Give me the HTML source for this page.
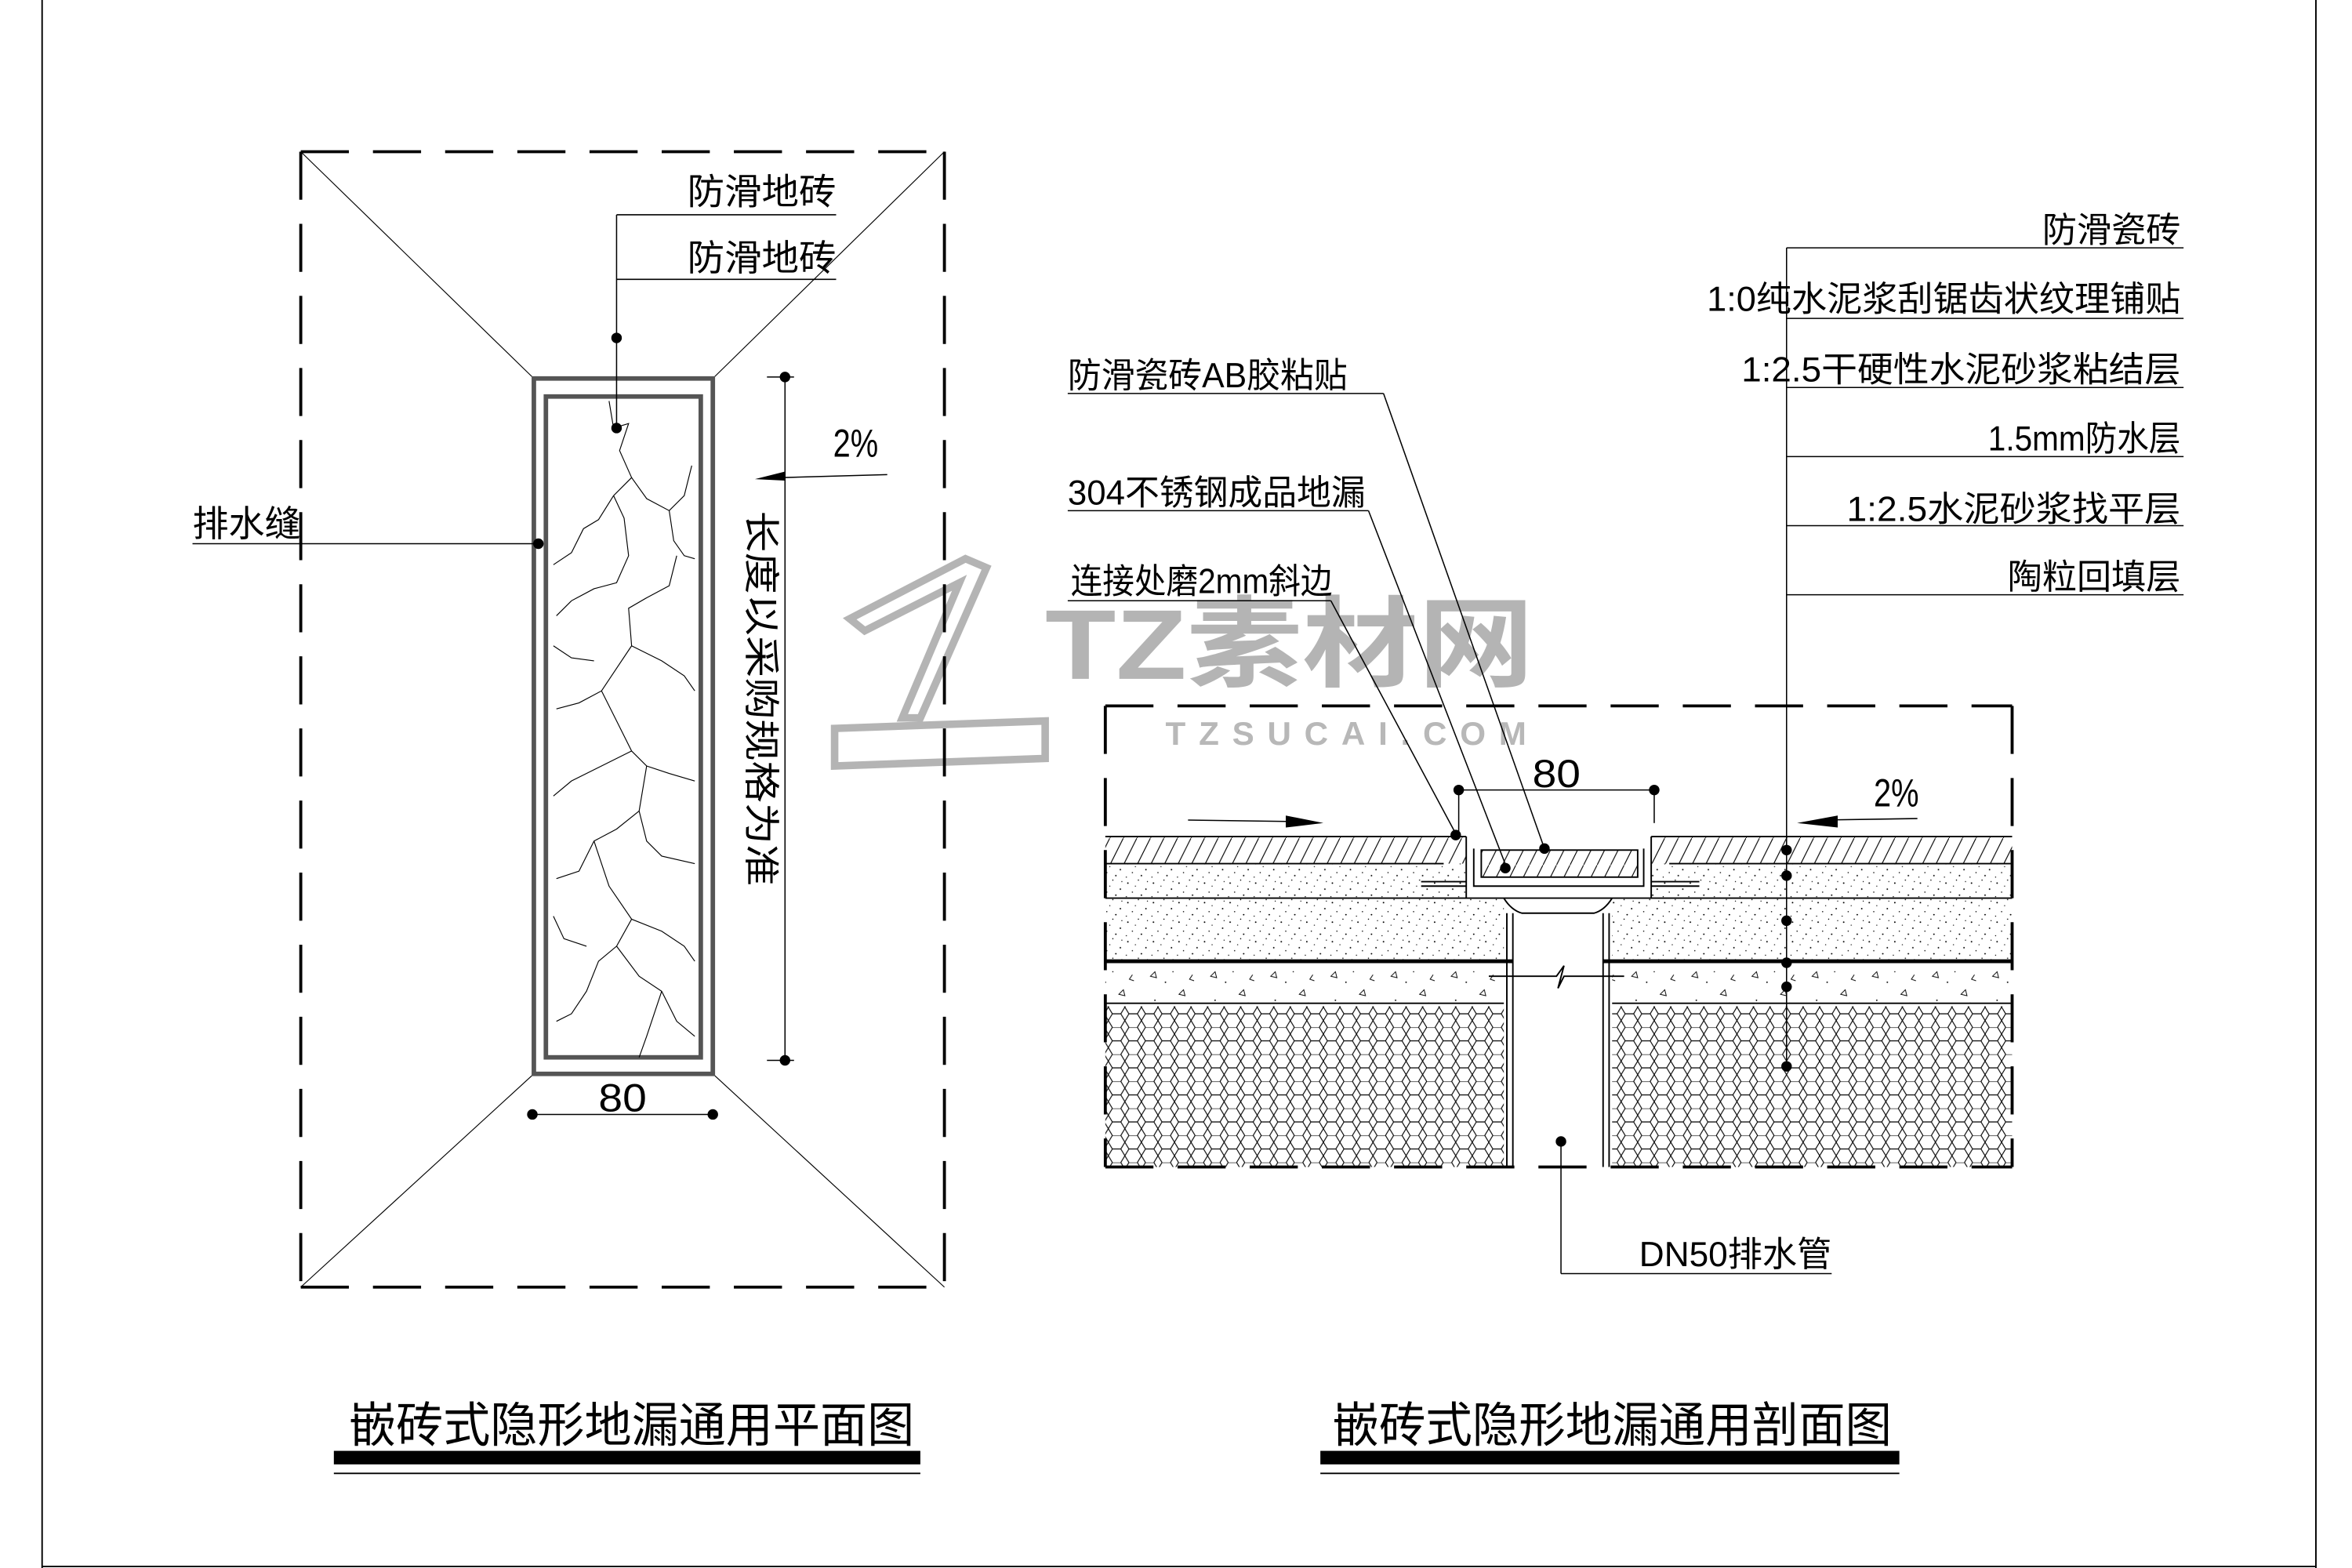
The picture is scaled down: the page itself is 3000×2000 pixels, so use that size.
<!DOCTYPE html>
<html><head><meta charset="utf-8"><style>
html,body{margin:0;padding:0;background:#fff;}
svg{display:block;}
text{font-family:"Liberation Sans","Noto Sans CJK SC",sans-serif;fill:#000;}
</style></head><body>
<svg width="3000" height="2000" viewBox="0 0 1564 1044" preserveAspectRatio="none" xmlns="http://www.w3.org/2000/svg">
<defs>
<pattern id="hex" width="11" height="18" patternUnits="userSpaceOnUse">
<path d="M0,4.5 L2.7,0 L8.3,0 L11,4.5 L8.3,9 L2.7,9 Z M8.3,9 L11,13.5 M2.7,9 L0,13.5 L2.7,18 M8.3,18 L11,13.5" fill="none" stroke="#000" stroke-width="0.6"/>
</pattern>
<pattern id="hatch" width="9" height="18" patternUnits="userSpaceOnUse">
<path d="M0,18 L9,0" stroke="#000" stroke-width="0.6"/>
</pattern>
<pattern id="dots" width="17" height="13" patternUnits="userSpaceOnUse">
<g fill="#000"><circle cx="2" cy="3" r="0.5"/><circle cx="9" cy="1" r="0.4"/><circle cx="14" cy="7" r="0.5"/><circle cx="5" cy="9" r="0.4"/><circle cx="11" cy="11" r="0.5"/><circle cx="7" cy="5" r="0.35"/><circle cx="15" cy="2" r="0.35"/><circle cx="1" cy="12" r="0.35"/></g>
</pattern>
<pattern id="conc" width="40" height="28" patternUnits="userSpaceOnUse">
<g fill="none" stroke="#000" stroke-width="0.5"><path d="M5,6 l3,-3 l1,4 z"/><path d="M24,18 l3,-3 l1,4 z"/><path d="M33,5 l-2,3 l3,1"/></g>
<g fill="#000"><circle cx="15" cy="10" r="0.5"/><circle cx="30" cy="24" r="0.5"/><circle cx="8" cy="22" r="0.5"/><circle cx="20" cy="3" r="0.4"/></g>
</pattern>
</defs>

<g stroke="#000" stroke-width="1" fill="none">
<line x1="28" y1="0" x2="28" y2="1044"/>
<line x1="1540" y1="0" x2="1540" y2="1044"/>
<line x1="28" y1="1043" x2="1540" y2="1043"/>
</g>

<g fill="none" stroke="#b4b4b4" stroke-width="5">
<path d="M565,412 L642,372 L656,378 L612,478 L600,478 L638,388 L575,420 Z"/>
<path d="M555,485 L695,480 L695,505 L555,510 Z"/>
</g>
<text x="695" y="452" font-size="66" font-weight="bold" style="fill:#b4b4b4" textLength="325" lengthAdjust="spacingAndGlyphs">TZ素材网</text>
<text x="775" y="496" font-size="22" font-weight="bold" style="fill:#b8b8b8" textLength="240" lengthAdjust="spacing">TZSUCAI.COM</text>

<g stroke="#000" fill="none">
<g stroke-width="2" stroke-dasharray="32,16">
<line x1="200" y1="101" x2="628" y2="101"/>
<line x1="200" y1="857" x2="628" y2="857"/>
<line x1="200" y1="101" x2="200" y2="857"/>
<line x1="628" y1="101" x2="628" y2="857"/>
</g>
<g stroke-width="0.6">
<line x1="200" y1="101" x2="355" y2="252"/>
<line x1="628" y1="101" x2="474" y2="252"/>
<line x1="200" y1="857" x2="355" y2="715"/>
<line x1="628" y1="857" x2="474" y2="715"/>
</g>
<rect x="355" y="252" width="119" height="463" stroke-width="3" stroke="#555"/>
<rect x="363" y="264" width="103" height="440" stroke-width="3" stroke="#555"/>
<g stroke-width="0.6">
<path d="M405,267 L408,285 L418,282 L412,300 L420,318 L408,330 L398,346 L388,352 L380,368 L368,376"/>
<path d="M420,318 L430,332 L445,340 L455,330 L460,310"/>
<path d="M408,330 L415,345 L418,370 L410,388 L395,392 L380,400 L370,410"/>
<path d="M445,340 L448,360 L455,370 L462,372 M450,370 L445,390 L430,398 L418,405 L420,430"/>
<path d="M420,430 L410,445 L400,460 L385,468 L370,472"/>
<path d="M420,430 L440,440 L455,450 L462,460"/>
<path d="M400,460 L410,480 L420,500 L430,510 L445,515 L462,520"/>
<path d="M420,500 L400,510 L380,520 L368,530"/>
<path d="M430,510 L425,540 L430,560 L440,570 L462,575"/>
<path d="M425,540 L410,552 L395,560 L385,580 L370,585"/>
<path d="M395,560 L405,590 L420,612 L410,630 L398,640 L390,660 L380,675 L370,680"/>
<path d="M420,612 L440,620 L455,630 L462,640"/>
<path d="M410,630 L425,650 L440,660 L450,680 L462,690"/>
<path d="M440,660 L430,690 L425,704"/>
<path d="M368,610 L375,625 L390,630"/>
<path d="M368,430 L380,438 L395,440"/>
</g>
<g stroke-width="0.8">
<line x1="410" y1="143" x2="556" y2="143"/>
<line x1="410" y1="186" x2="556" y2="186"/>
<line x1="410" y1="143" x2="410" y2="285"/>
<line x1="128" y1="362" x2="358" y2="362"/>
<line x1="510" y1="251" x2="528" y2="251"/>
<line x1="522" y1="251" x2="522" y2="706"/>
<line x1="510" y1="706" x2="528" y2="706"/>
<line x1="520" y1="318" x2="590" y2="316"/>
<line x1="354" y1="742" x2="474" y2="742"/>
</g>
</g>
<g fill="#000">
<circle cx="410" cy="225" r="3.5"/><circle cx="410" cy="285" r="3.5"/><circle cx="358" cy="362" r="3.5"/>
<circle cx="522" cy="251" r="3.5"/><circle cx="522" cy="706" r="3.5"/>
<circle cx="354" cy="742" r="3.5"/><circle cx="474" cy="742" r="3.5"/>
<path d="M502,319 L522,314 L522,320 Z"/>
</g>
<text x="457" y="136" font-size="24" textLength="99" lengthAdjust="spacingAndGlyphs">防滑地砖</text>
<text x="457" y="180" font-size="24" textLength="99" lengthAdjust="spacingAndGlyphs">防滑地砖</text>
<text x="128" y="357" font-size="24" textLength="72" lengthAdjust="spacingAndGlyphs">排水缝</text>
<text x="554" y="304" font-size="26" textLength="30" lengthAdjust="spacingAndGlyphs">2%</text>
<text x="398" y="740" font-size="26" textLength="32" lengthAdjust="spacingAndGlyphs">80</text>
<text transform="translate(498,340) rotate(90)" font-size="24" textLength="250" lengthAdjust="spacingAndGlyphs">长度以采购规格为准</text>

<text x="232" y="960" font-size="32" textLength="376" lengthAdjust="spacingAndGlyphs">嵌砖式隐形地漏通用平面图</text>
<rect x="222" y="966" width="390" height="9" fill="#000"/>
<line x1="222" y1="981" x2="612" y2="981" stroke="#000" stroke-width="1"/>

<rect x="735" y="557" width="240" height="18" fill="url(#hatch)"/>
<rect x="735" y="575" width="240" height="23" fill="url(#dots)"/>
<rect x="735" y="598" width="265" height="42" fill="url(#dots)"/>
<rect x="735" y="640" width="265" height="28" fill="url(#conc)"/>
<rect x="735" y="670" width="265" height="107" fill="url(#hex)"/>
<rect x="1098" y="557" width="240" height="18" fill="url(#hatch)"/>
<rect x="1098" y="575" width="240" height="23" fill="url(#dots)"/>
<rect x="1072" y="598" width="266" height="42" fill="url(#dots)"/>
<rect x="1072" y="640" width="266" height="28" fill="url(#conc)"/>
<rect x="1072" y="670" width="266" height="107" fill="url(#hex)"/>
<rect x="985" y="566" width="104" height="18" fill="url(#hatch)"/>
<g stroke="#000" fill="none">
<g stroke-width="1">
<line x1="735" y1="557" x2="975" y2="557"/>
<line x1="1098" y1="557" x2="1338" y2="557"/>
<line x1="735" y1="575" x2="960" y2="575"/>
<line x1="1110" y1="575" x2="1338" y2="575"/>
<line x1="735" y1="598" x2="975" y2="598"/>
<line x1="1098" y1="598" x2="1338" y2="598"/>
<line x1="735" y1="668" x2="1000" y2="668"/>
<line x1="1072" y1="668" x2="1338" y2="668"/>
<path d="M975,557 L975,598 L1098,598 L1098,557"/>
<rect x="985" y="566" width="104" height="18"/>
<path d="M980,565 L980,590 L1093,590 L1093,565"/>
<path d="M1000,598 Q1005,606 1012,608 L1060,608 Q1067,606 1072,598"/>
<line x1="1002" y1="608" x2="1002" y2="777"/><line x1="1006" y1="608" x2="1006" y2="777"/>
<line x1="1066" y1="608" x2="1066" y2="777"/><line x1="1070" y1="608" x2="1070" y2="777"/>
<line x1="945" y1="587" x2="975" y2="587"/><line x1="945" y1="590" x2="975" y2="590"/>
<line x1="1098" y1="587" x2="1130" y2="587"/><line x1="1098" y1="590" x2="1130" y2="590"/>
<path d="M990,650 L1035,650 L1040,643 L1036,658 L1040,650 L1080,650"/>
</g>
<line x1="735" y1="640" x2="1006" y2="640" stroke-width="2.5"/>
<line x1="1066" y1="640" x2="1338" y2="640" stroke-width="2.5"/>
<g stroke-width="2" stroke-dasharray="32,16">
<line x1="735" y1="470" x2="1338" y2="470"/>
<line x1="735" y1="777" x2="1338" y2="777"/>
<line x1="735" y1="470" x2="735" y2="777"/>
<line x1="1338" y1="470" x2="1338" y2="777"/>
</g>
<g stroke-width="0.8">
<line x1="710" y1="262" x2="920" y2="262"/>
<line x1="920" y1="262" x2="1027" y2="565"/>
<line x1="710" y1="340" x2="910" y2="340"/>
<line x1="910" y1="340" x2="1002" y2="578"/>
<line x1="710" y1="400" x2="885" y2="400"/>
<line x1="885" y1="400" x2="968" y2="555"/>
<line x1="1188" y1="165" x2="1188" y2="710"/>
<line x1="1188" y1="165" x2="1452" y2="165"/>
<line x1="1188" y1="212" x2="1452" y2="212"/>
<line x1="1188" y1="258" x2="1452" y2="258"/>
<line x1="1188" y1="304" x2="1452" y2="304"/>
<line x1="1188" y1="350" x2="1452" y2="350"/>
<line x1="1188" y1="396" x2="1452" y2="396"/>
<line x1="970" y1="526" x2="1100" y2="526"/>
<line x1="970" y1="526" x2="970" y2="555"/>
<line x1="1100" y1="526" x2="1100" y2="548"/>
<line x1="790" y1="546" x2="860" y2="547"/>
<line x1="1210" y1="546" x2="1275" y2="545"/>
<line x1="1038" y1="760" x2="1038" y2="848"/>
<line x1="1038" y1="848" x2="1218" y2="848"/>
</g>
</g>
<g fill="#000">
<path d="M880,548 L855,543 L855,551 Z"/>
<path d="M1195,548 L1222,543 L1222,551 Z"/>
<circle cx="970" cy="526" r="3.5"/><circle cx="1100" cy="526" r="3.5"/>
<circle cx="968" cy="556" r="3.5"/><circle cx="1027" cy="565" r="3.5"/><circle cx="1001" cy="578" r="3.5"/>
<circle cx="1188" cy="566" r="3.5"/><circle cx="1188" cy="583" r="3.5"/><circle cx="1188" cy="613" r="3.5"/>
<circle cx="1188" cy="641" r="3.5"/><circle cx="1188" cy="657" r="3.5"/><circle cx="1188" cy="710" r="3.5"/>
<circle cx="1038" cy="760" r="3.5"/>
</g>
<text x="1035" y="524" font-size="26" text-anchor="middle" textLength="32" lengthAdjust="spacingAndGlyphs">80</text>
<text x="1246" y="537" font-size="26" textLength="30" lengthAdjust="spacingAndGlyphs">2%</text>
<text x="710" y="258" font-size="23" textLength="186" lengthAdjust="spacingAndGlyphs">防滑瓷砖AB胶粘贴</text>
<text x="710" y="336" font-size="23" textLength="198" lengthAdjust="spacingAndGlyphs">304不锈钢成品地漏</text>
<text x="712" y="395" font-size="23" textLength="174" lengthAdjust="spacingAndGlyphs">连接处磨2mm斜边</text>
<text x="1450" y="161" font-size="23" text-anchor="end" textLength="92" lengthAdjust="spacingAndGlyphs">防滑瓷砖</text>
<text x="1450" y="207" font-size="23" text-anchor="end" textLength="315" lengthAdjust="spacingAndGlyphs">1:0纯水泥浆刮锯齿状纹理铺贴</text>
<text x="1450" y="254" font-size="23" text-anchor="end" textLength="292" lengthAdjust="spacingAndGlyphs">1:2.5干硬性水泥砂浆粘结层</text>
<text x="1450" y="300" font-size="23" text-anchor="end" textLength="128" lengthAdjust="spacingAndGlyphs">1.5mm防水层</text>
<text x="1450" y="347" font-size="23" text-anchor="end" textLength="222" lengthAdjust="spacingAndGlyphs">1:2.5水泥砂浆找平层</text>
<text x="1450" y="392" font-size="23" text-anchor="end" textLength="115" lengthAdjust="spacingAndGlyphs">陶粒回填层</text>
<text x="1090" y="843" font-size="23" textLength="128" lengthAdjust="spacingAndGlyphs">DN50排水管</text>

<text x="886" y="960" font-size="32" textLength="372" lengthAdjust="spacingAndGlyphs">嵌砖式隐形地漏通用剖面图</text>
<rect x="878" y="966" width="385" height="9" fill="#000"/>
<line x1="878" y1="981" x2="1263" y2="981" stroke="#000" stroke-width="1"/>
</svg>
</body></html>
